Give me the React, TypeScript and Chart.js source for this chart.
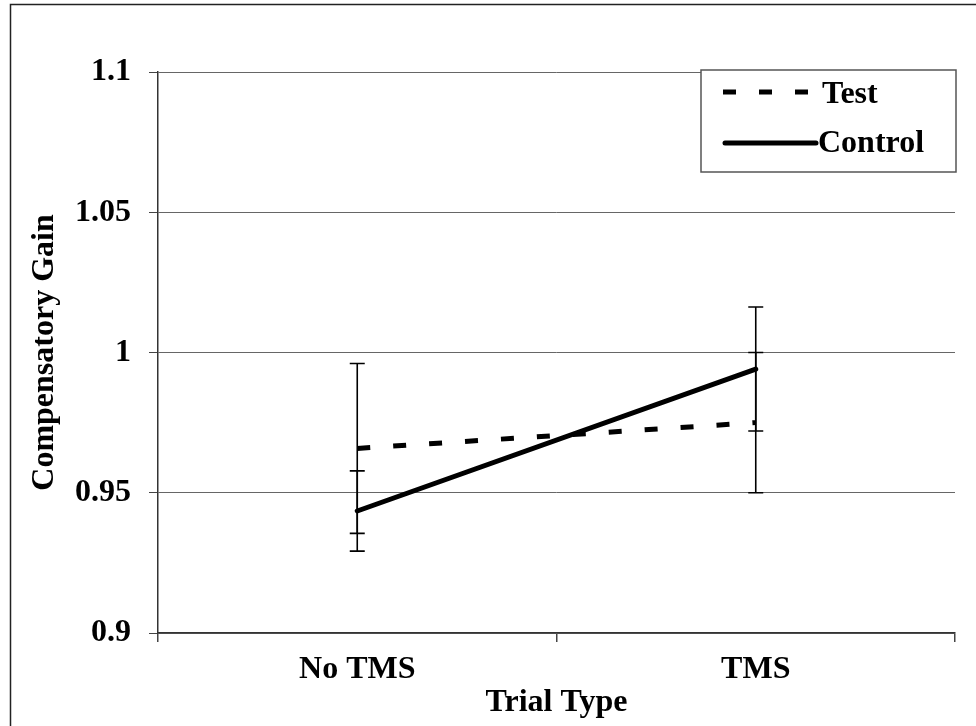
import React, { useEffect, useRef } from "react";
import { Chart, registerables } from "chart.js";

Chart.register(...registerables);

const categories = ["No TMS", "TMS"];
const seriesNames = ["Test", "Control"];
const testValues = [0.9658, 0.975];
const testErrors = [0.0303, 0.025];
const controlValues = [0.9435, 0.9941];
const controlErrors = [0.0143, 0.0221];
const yTicks = [0.9, 0.95, 1, 1.05, 1.1];
const xTitle = "Trial Type";
const yTitle = "Compensatory Gain";

const FONT = '"Liberation Serif", "Times New Roman", serif';

const errorBarPlugin = {
  id: "errorBars",
  afterDatasetsDraw(chart: any) {
    const { ctx, scales } = chart;
    const xs = scales.x;
    const ys = scales.y;
    ctx.save();
    ctx.strokeStyle = "#000";
    ctx.lineWidth = 1.6;
    chart.data.datasets.forEach((ds: any) => {
      const errs: number[] = ds.errors || [];
      ds.data.forEach((v: number, i: number) => {
        const e = errs[i];
        if (e == null) return;
        const x = xs.getPixelForValue(i);
        const yt = ys.getPixelForValue(v + e);
        const yb = ys.getPixelForValue(v - e);
        ctx.beginPath();
        ctx.moveTo(x, yt);
        ctx.lineTo(x, yb);
        ctx.moveTo(x - 7.5, yt);
        ctx.lineTo(x + 7.5, yt);
        ctx.moveTo(x - 7.5, yb);
        ctx.lineTo(x + 7.5, yb);
        ctx.stroke();
      });
    });
    ctx.restore();
  },
};

const decorPlugin = {
  id: "decor",
  afterDraw(chart: any) {
    const { ctx, chartArea, width, height } = chart;
    ctx.save();
    // outer frame (top and left visible)
    ctx.strokeStyle = "#222";
    ctx.lineWidth = 1.5;
    ctx.beginPath();
    ctx.moveTo(10.5, height);
    ctx.lineTo(10.5, 4.5);
    ctx.lineTo(width, 4.5);
    ctx.stroke();

    // legend box
    const bx = chartArea.right - 254;
    const by = chartArea.top - 2;
    const bw = 255;
    const bh = 102;
    ctx.fillStyle = "#fff";
    ctx.fillRect(bx, by, bw, bh);
    ctx.strokeStyle = "#555";
    ctx.lineWidth = 1.5;
    ctx.strokeRect(bx, by, bw, bh);

    const ds = chart.data.datasets;
    const lx0 = bx + 22;
    const lx1 = bx + 112;
    // Test
    ctx.strokeStyle = "#000";
    ctx.lineWidth = 5;
    ctx.setLineDash([13, 23]);
    ctx.lineCap = "butt";
    ctx.beginPath();
    ctx.moveTo(lx0, by + 22);
    ctx.lineTo(lx1, by + 22);
    ctx.stroke();
    // Control
    ctx.setLineDash([]);
    ctx.lineCap = "round";
    ctx.beginPath();
    ctx.moveTo(lx0 + 2, by + 73);
    ctx.lineTo(lx1 + 3, by + 73);
    ctx.stroke();

    ctx.fillStyle = "#000";
    ctx.font = `bold 32px ${FONT}`;
    ctx.textAlign = "left";
    ctx.textBaseline = "middle";
    ctx.fillText(ds[0].label, bx + 121, by + 25);
    ctx.fillText(ds[1].label, bx + 117, by + 74);
    ctx.restore();
  },
};

export default function App() {
  const ref = useRef<HTMLCanvasElement | null>(null);

  useEffect(() => {
    if (!ref.current) return;
    const chart = new Chart(ref.current, {
      type: "line",
      data: {
        labels: categories,
        datasets: [
          {
            label: seriesNames[0],
            data: testValues,
            errors: testErrors,
            borderColor: "#000",
            borderWidth: 5,
            borderDash: [13, 23],
            borderCapStyle: "butt",
            pointRadius: 0,
            fill: false,
            tension: 0,
          } as any,
          {
            label: seriesNames[1],
            data: controlValues,
            errors: controlErrors,
            borderColor: "#000",
            borderWidth: 5,
            borderCapStyle: "round",
            pointRadius: 0,
            fill: false,
            tension: 0,
          } as any,
        ],
      },
      options: {
        animation: false,
        responsive: false,
        devicePixelRatio: 1,
        layout: { padding: { top: 72, right: 21, left: 0, bottom: 0 } },
        plugins: {
          legend: { display: false },
          tooltip: { enabled: false },
        },
        scales: {
          x: {
            type: "category",
            offset: true,
            grid: {
              offset: true,
              drawOnChartArea: true,
              color: (c: any) => (c.index === 2 ? "#888" : "rgba(0,0,0,0)"),
              tickColor: (c: any) => (c.index === 2 ? "#888" : "#444"),
              lineWidth: 1.5,
              tickLength: 9,
            },
            border: { color: "#333", width: 1.5 },
            ticks: {
              color: "#000",
              font: { family: FONT, size: 32, weight: "bold" },
              padding: 9,
              maxRotation: 0,
            },
            title: {
              display: true,
              text: xTitle,
              color: "#000",
              font: { family: FONT, size: 32, weight: "bold" },
              padding: { top: 0, bottom: 4 },
            },
            afterFit: (s: any) => {
              s.height = 93;
            },
          },
          y: {
            min: yTicks[0],
            max: yTicks[yTicks.length - 1],
            afterBuildTicks: (s: any) => {
              s.ticks = yTicks.map((v) => ({ value: v }));
            },
            grid: {
              color: "#666",
              lineWidth: 1,
              tickColor: "#444",
              tickLength: 9,
            },
            border: { color: "#333", width: 1.5 },
            ticks: {
              color: "#000",
              font: { family: FONT, size: 32, weight: "bold" },
              padding: 18,
              callback: (v: any) => String(+Number(v).toFixed(2)),
            },
            title: {
              display: true,
              text: yTitle,
              color: "#000",
              font: { family: FONT, size: 32, weight: "bold" },
              padding: { top: 26, bottom: 0 },
            },
            afterFit: (s: any) => {
              s.width = 158;
            },
          },
        },
      } as any,
      plugins: [errorBarPlugin, decorPlugin],
    });
    return () => chart.destroy();
  }, []);

  return (
    <div style={{ position: "absolute", left: 0, top: 0, width: 976, height: 726, background: "#fff" }}>
      <canvas ref={ref} width={976} height={726} style={{ display: "block" }} />
    </div>
  );
}
